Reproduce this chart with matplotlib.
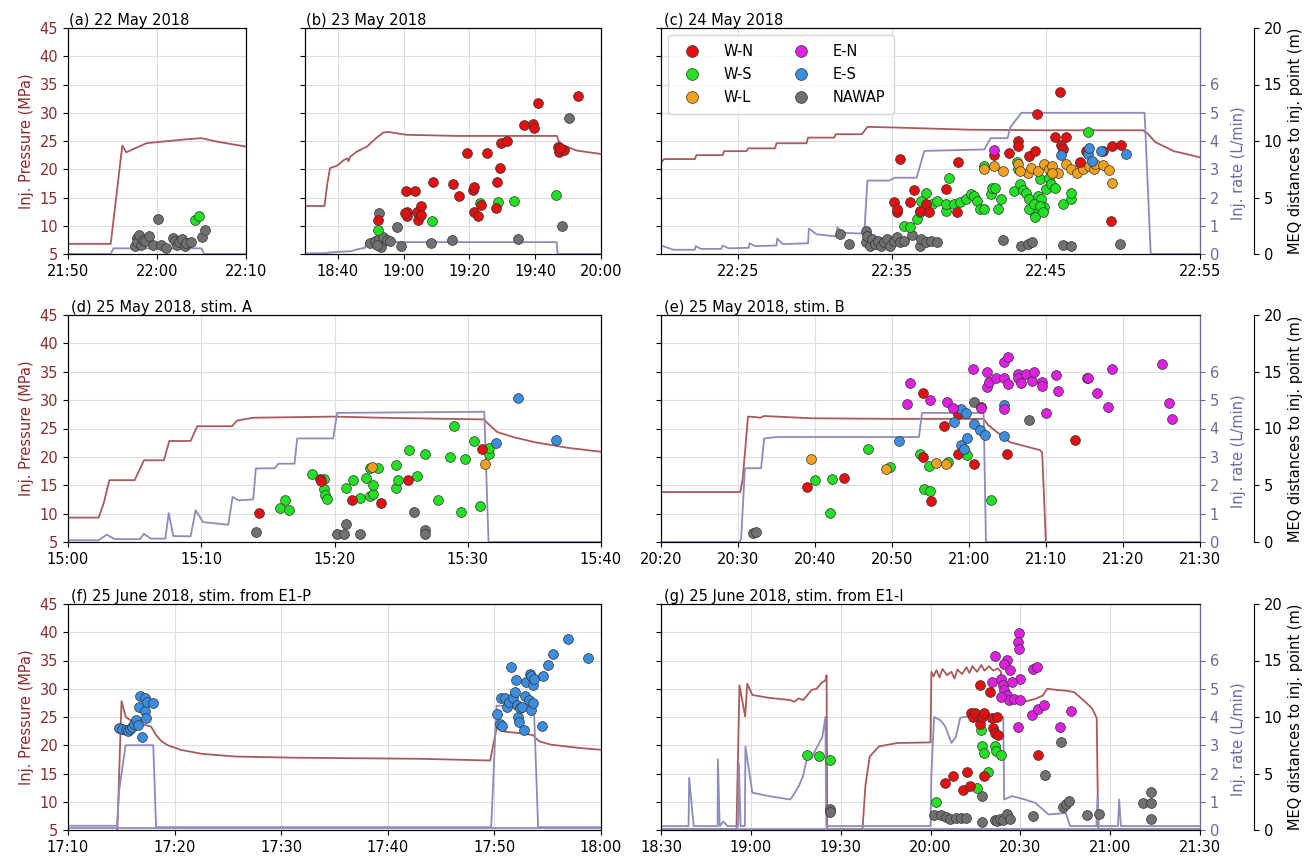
import matplotlib
matplotlib.use("Agg")
import matplotlib.pyplot as plt
import matplotlib.dates as mdates
from matplotlib.lines import Line2D
import numpy as np
import pandas as pd

# Times are minutes after the start of each panel's window.
# Pressure in MPa, injection rate in L/min, MEQ distance in m.

# (a) 22 May 2018, window starts 21:50
A_P_T = [0, 4.8, 6.1, 6.55, 8.8, 10.0, 13.3, 15.0, 16.7, 20.0]
A_P = [6.8, 6.8, 24.2, 23.0, 24.6, 24.8, 25.3, 25.5, 24.9, 24.0]
A_Q_T = [0, 4.8, 5.1, 15.0, 15.3, 20.0]
A_Q = [0, 0, 0.2, 0.2, 0, 0]
A_WS = [(14.3, 3.03), (14.7, 3.32)]
A_NAWAP = [(7.5, 0.68), (7.7, 1.41), (7.8, 1.03), (8.0, 1.71), (8.2, 0.82), (8.4, 1.26),
           (8.7, 1.12), (9.1, 1.62), (9.6, 0.82), (10.1, 3.09), (10.5, 0.82), (11.0, 0.53),
           (11.8, 1.41), (12.0, 1.12), (12.3, 0.82), (12.5, 1.03), (12.8, 1.32), (13.1, 0.74),
           (13.3, 0.97), (13.8, 1.03), (15.0, 1.5), (15.4, 2.15)]

# (b) 23 May 2018, window starts 18:30
B_P_T = [0, 5.9, 6.8, 7.6, 9.6, 10.6, 11.7, 12.9, 13.2, 13.7, 15.7, 18.8, 21.8, 23.8,
         25.4, 30.9, 46.1, 76.6, 77.1, 78.6, 82.7, 90.0]
B_P = [13.5, 13.5, 17.5, 20.2, 20.6, 21.0, 21.6, 21.9, 21.4, 22.2, 23.1, 24.0, 25.6, 26.5,
       26.6, 26.1, 25.9, 25.9, 25.0, 24.2, 23.3, 22.7]
B_Q_T = [0, 6, 8, 14, 16, 18.3, 18.6, 76.5, 76.8, 90]
B_Q = [0.02, 0.03, 0.06, 0.1, 0.17, 0.22, 0.42, 0.42, 0, 0]
B_WN = [(22.3, 2.97), (30.6, 5.59), (33.3, 5.59), (30.9, 3.76), (31.1, 3.32), (30.4, 3.62),
        (34.0, 3.76), (34.5, 3.03), (35.2, 4.21), (35.3, 3.47), (39.0, 6.41), (45.1, 6.2),
        (46.9, 5.15), (49.4, 8.91), (51.2, 5.68), (51.4, 5.91), (51.4, 3.76), (52.7, 3.38),
        (53.4, 4.35), (55.3, 8.91), (58.3, 6.41), (58.1, 4.06), (59.3, 7.59), (59.5, 9.85),
        (61.4, 10.03), (66.7, 11.41), (69.2, 11.47), (69.5, 11.12), (70.7, 13.32),
        (76.9, 9.5), (77.1, 9.06), (78.8, 9.21), (77.6, 9.35), (82.9, 14.0)]
B_WS = [(22.3, 2.15), (38.5, 2.94), (53.2, 4.5), (58.8, 4.56), (63.6, 4.65), (76.3, 5.24)]
B_NAWAP = [(22.5, 3.62), (27.9, 2.35), (19.8, 0.97), (21.3, 1.12), (22.6, 1.32), (23.0, 0.62),
           (23.8, 1.5), (24.8, 1.26), (25.7, 1.18), (22.0, 0.82), (29.1, 0.74), (38.2, 0.97),
           (44.6, 1.21), (64.7, 1.32), (78.1, 2.5), (80.3, 12.06)]

# (c) 24 May 2018, window starts 22:20
C_P_T = [0, 0.2, 2.2, 2.3, 4.0, 4.1, 5.55, 5.65, 7.4, 7.5, 9.45, 9.55, 11.25, 11.35, 13.05,
         13.4, 15.0, 20.0, 25.0, 31.3, 31.6, 32.1, 33.3, 34.4, 35.0]
C_P = [21.2, 21.8, 21.8, 22.5, 22.5, 23.2, 23.2, 23.7, 23.7, 24.6, 24.6, 25.6, 25.6, 26.2,
       26.2, 27.5, 27.4, 27.0, 26.9, 26.9, 26.3, 24.8, 23.2, 22.5, 22.1]
C_Q_T = [0, 0.8, 2.2, 2.25, 2.6, 3.9, 4.0, 4.4, 5.7, 5.75, 6.1, 7.5, 7.55, 7.9, 9.55, 9.6,
         10.1, 11.4, 11.45, 11.8, 13.2, 13.4, 14.8, 15.2, 16.6, 17.1, 21.0, 21.4, 22.5, 22.7,
         23.4, 31.4, 31.8, 35.0]
C_Q = [0.3, 0.15, 0.15, 0.28, 0.18, 0.18, 0.3, 0.2, 0.22, 0.38, 0.28, 0.3, 0.55, 0.35, 0.38,
       0.9, 0.7, 0.62, 0.95, 0.75, 0.72, 2.6, 2.6, 2.7, 2.7, 3.65, 3.7, 4.1, 4.1, 4.5, 5.0,
       5.0, 0.0, 0.0]
C_WN = [(15.5, 8.38), (15.1, 4.56), (15.3, 3.68), (15.3, 3.97), (16.2, 4.56), (16.4, 5.65),
        (17.2, 4.41), (16.8, 3.82), (17.4, 3.68), (18.5, 5.79), (19.3, 8.18), (19.2, 3.74),
        (21.6, 8.74), (22.6, 8.97), (23.2, 10.0), (23.2, 9.56), (23.9, 8.68), (24.3, 9.12),
        (24.4, 12.35), (25.6, 10.35), (25.9, 14.32), (26.0, 9.62), (26.3, 10.35),
        (26.1, 9.26), (27.2, 8.15), (27.6, 9.12), (28.7, 9.12), (29.3, 9.56), (29.9, 9.65),
        (29.2, 2.94)]
C_EN = [(21.6, 9.2)]
C_WS = [(15.8, 2.5), (16.2, 2.35), (16.6, 3.09), (16.8, 3.68), (16.9, 4.71), (17.2, 5.38),
        (17.6, 4.41), (17.9, 4.71), (18.5, 3.82), (18.7, 6.76), (18.5, 4.41), (19.0, 4.41),
        (19.4, 4.56), (19.8, 4.85), (20.1, 5.29), (20.3, 5.09), (20.5, 4.71), (20.7, 3.97),
        (21.0, 3.97), (21.0, 7.79), (21.4, 5.29), (21.5, 5.88), (21.7, 5.88), (21.9, 3.97),
        (22.1, 4.85), (22.9, 5.59), (23.1, 8.15), (23.2, 7.5), (23.3, 6.18), (23.5, 5.65),
        (23.7, 5.44), (23.9, 4.85), (24.0, 3.97), (24.2, 3.68), (24.3, 3.24), (24.5, 5.15),
        (24.6, 6.62), (24.7, 4.85), (24.9, 4.12), (25.0, 5.74), (25.2, 6.76), (25.3, 6.18),
        (25.6, 5.88), (26.1, 4.41), (26.6, 4.85), (26.6, 5.44), (27.7, 10.82), (23.9, 3.97),
        (24.2, 4.41), (24.6, 4.26), (24.8, 3.68)]
C_WL = [(21.0, 7.56), (21.6, 7.79), (22.2, 7.35), (23.2, 7.94), (23.8, 7.21), (24.0, 7.65),
        (24.5, 7.35), (24.9, 7.94), (25.2, 7.5), (25.4, 7.79), (25.8, 7.21), (26.3, 7.94),
        (26.6, 7.5), (27.0, 7.21), (27.2, 8.09), (27.4, 7.5), (27.8, 7.79), (28.1, 7.56),
        (28.2, 7.94), (28.7, 7.85), (29.1, 7.44), (29.3, 6.32), (23.3, 7.35), (25.4, 7.21)]
C_ES = [(26.0, 8.74), (27.7, 8.82), (27.8, 9.41), (28.0, 8.24), (28.6, 9.12), (30.2, 8.82)]
C_NAWAP = [(11.6, 1.76), (12.2, 0.88), (13.3, 2.06), (13.3, 1.03), (13.4, 1.62), (13.6, 0.74),
           (13.7, 1.32), (13.9, 0.88), (14.1, 1.18), (14.3, 0.74), (14.5, 1.03), (14.7, 1.32),
           (14.9, 0.74), (15.1, 1.18), (15.3, 1.47), (15.5, 1.03), (15.8, 1.18), (16.3, 1.68),
           (16.8, 0.74), (16.9, 1.32), (17.2, 1.03), (17.5, 1.18), (17.9, 1.09), (22.2, 1.26),
           (23.4, 0.74), (23.8, 0.88), (24.1, 1.09), (26.1, 0.82), (26.6, 0.68), (29.8, 0.88)]

# (d) 25 May 2018 stim. A, window starts 15:00
D_P_T = [0, 2.3, 2.7, 3.1, 5.0, 5.7, 7.2, 7.6, 9.2, 9.7, 12.3, 12.7, 13.9, 17.1, 20.0, 23.4,
         31.2, 31.5, 32.2, 33.4, 35.0, 37.5, 40.0]
D_P = [9.3, 9.3, 12.0, 15.9, 15.9, 19.4, 19.4, 22.8, 22.8, 25.4, 25.4, 26.4, 26.9, 27.0,
       27.1, 26.9, 26.6, 25.9, 24.4, 23.5, 22.6, 21.6, 20.9]
D_Q_T = [0, 2.3, 2.9, 3.5, 5.4, 5.7, 6.2, 7.3, 7.56, 7.9, 9.2, 9.58, 10.14, 12.03, 12.35,
         12.8, 13.9, 14.1, 15.5, 15.8, 17.0, 17.2, 19.9, 20.2, 31.24, 31.56, 40.0]
D_Q = [0.06, 0.06, 0.26, 0.1, 0.1, 0.29, 0.12, 0.12, 1.02, 0.21, 0.2, 1.12, 0.7, 0.61, 1.59,
       1.47, 1.5, 2.59, 2.6, 2.76, 2.76, 3.65, 3.65, 4.55, 4.59, 0.0, 0.0]
D_WN = [(14.3, 2.59), (18.9, 5.53), (19.0, 5.4), (21.3, 3.68), (23.5, 3.47), (25.5, 5.44),
        (31.1, 8.15)]
D_WS = [(15.9, 3.0), (16.3, 3.68), (16.6, 2.79), (18.3, 6.03), (19.2, 5.53), (19.2, 4.71),
        (19.3, 4.12), (19.4, 3.82), (20.9, 4.79), (21.4, 5.44), (21.9, 3.91), (22.4, 5.68),
        (22.7, 4.06), (22.9, 4.26), (22.9, 5.0), (22.7, 6.53), (23.3, 6.53), (24.6, 6.76),
        (24.6, 4.76), (24.8, 5.5), (25.6, 8.09), (26.2, 5.82), (26.8, 7.74), (27.8, 3.68),
        (28.7, 7.5), (29.0, 10.24), (29.5, 2.65), (29.8, 7.35), (30.5, 8.91), (30.9, 3.15),
        (31.5, 8.09), (31.6, 7.71), (31.6, 8.24)]
D_WL = [(22.8, 6.62), (31.3, 6.91)]
D_ES = [(32.1, 8.76), (33.8, 12.71), (36.6, 8.97)]
D_NAWAP = [(14.1, 0.88), (20.2, 0.68), (20.7, 0.74), (20.9, 1.56), (21.9, 0.74), (26.0, 2.65),
           (26.8, 1.09), (26.8, 0.74)]

# (e) 25 May 2018 stim. B, window starts 20:20
E_P_T = [0, 10.3, 10.6, 11.3, 12.3, 12.9, 13.4, 19.6, 30.0, 41.9, 42.5, 43.6, 45.3, 47.5,
         49.2, 49.5, 50.0]
E_P = [13.8, 13.8, 16.0, 27.1, 27.0, 26.9, 27.2, 26.8, 26.7, 26.7, 25.6, 24.4, 22.6, 21.8,
       21.2, 20.8, 4.5]
E_Q_T = [0, 10.2, 10.4, 10.9, 13.0, 13.4, 15.0, 33.5, 33.9, 41.9, 42.2, 70.0]
E_Q = [0, 0, 0.1, 2.6, 2.6, 3.65, 3.7, 3.7, 4.55, 4.55, 0, 0]
E_EN = [(32.3, 13.97), (31.9, 12.15), (34.9, 12.5), (37.2, 12.35), (37.9, 11.82), (40.5, 15.24),
        (42.4, 14.94), (42.4, 13.62), (42.6, 14.12), (43.5, 14.47), (44.6, 14.47),
        (44.6, 15.88), (45.0, 16.26), (45.0, 13.88), (46.3, 14.76), (46.3, 14.41),
        (46.7, 13.97), (47.4, 14.76), (48.2, 14.18), (48.5, 14.94), (49.5, 14.06),
        (49.5, 13.76), (50.0, 11.38), (51.3, 14.71), (51.6, 13.32), (55.3, 14.41),
        (55.5, 14.41), (56.6, 13.15), (58.0, 11.91), (58.6, 15.24), (65.0, 15.68),
        (66.0, 12.29), (66.4, 10.82), (41.6, 11.82), (44.6, 11.68)]
E_WN = [(18.9, 4.85), (23.8, 5.68), (34.0, 13.09), (34.0, 7.5), (36.8, 10.21), (35.1, 3.59),
        (38.6, 11.24), (38.6, 7.71), (40.7, 6.91), (41.6, 11.91), (44.9, 7.71), (53.8, 9.03)]
E_WS = [(20.0, 5.44), (22.2, 5.59), (21.9, 2.56), (26.9, 8.15), (29.8, 6.62), (33.6, 7.79),
        (34.1, 4.71), (34.8, 6.68), (34.9, 4.47), (37.3, 7.06), (39.8, 7.65), (42.8, 3.68)]
E_WL = [(19.5, 7.35), (29.2, 6.47), (35.7, 7.0), (37.0, 6.85)]
E_ES = [(30.9, 8.91), (38.0, 10.59), (39.0, 11.71), (39.6, 11.38), (39.0, 8.53), (39.4, 8.18),
        (39.8, 9.18), (40.7, 10.44), (41.4, 9.85), (42.1, 9.41), (44.6, 12.06), (44.6, 9.32)]
E_NAWAP = [(11.9, 0.79), (12.3, 0.88), (40.7, 12.35), (47.8, 10.74)]

# (f) 25 June 2018 stim. from E1-P, window starts 17:10
F_P_T = [0, 4.62, 5.02, 5.42, 6.2, 7.2, 7.79, 8.26, 8.77, 9.37, 10.55, 12.5, 15.7, 21.2,
         33.1, 39.6, 40.2, 41.0, 42.6, 43.6, 44.2, 45.3, 48.1, 50.0]
F_P = [4.5, 4.5, 27.8, 25.0, 24.0, 23.6, 23.3, 21.8, 20.7, 20.0, 19.2, 18.5, 18.0, 17.8,
       17.6, 17.3, 23.0, 22.4, 22.1, 21.8, 20.7, 20.1, 19.5, 19.2]
F_Q_T = [0, 4.6, 4.8, 5.4, 8.0, 8.26, 39.7, 40.2, 43.7, 44.1, 50.0]
F_Q = [0.15, 0.15, 1.4, 3.0, 3.0, 0.1, 0.1, 4.4, 4.4, 0.1, 0.1]
F_Q2_T = [0, 50.0]
F_Q2 = [0.06, 0.06]
F_ES = [(4.8, 9.0), (5.1, 8.91), (5.4, 8.85), (5.6, 8.8), (5.8, 8.91), (6.0, 9.15), (6.2, 9.38),
        (6.4, 9.74), (6.6, 9.3), (6.8, 11.85), (6.7, 10.91), (6.9, 8.27), (7.2, 11.64),
        (7.2, 10.56), (7.3, 9.88), (7.4, 11.35), (8.0, 11.26),
        (40.2, 10.26), (40.5, 9.35), (40.7, 9.21), (40.6, 11.64), (41.0, 11.64),
        (41.2, 10.91), (41.4, 11.35), (41.6, 14.43), (41.7, 11.64), (41.9, 12.23),
        (42.0, 13.31), (42.1, 11.06), (42.2, 10.03), (42.3, 9.59), (42.4, 10.76),
        (42.6, 10.91), (42.8, 8.86), (42.9, 11.85), (43.0, 13.11), (43.2, 11.5),
        (43.3, 13.78), (43.4, 13.61), (43.4, 10.62), (43.6, 12.82), (43.6, 11.26),
        (43.7, 13.4), (44.5, 9.21), (44.6, 13.61), (45.0, 14.57), (45.5, 15.54),
        (46.9, 16.86), (48.8, 15.22)]

# (g) 25 June 2018 stim. from E1-I, window starts 18:30
G_P_T = [0, 25.2, 26.2, 28.1, 28.8, 30.5, 36.0, 43.1, 44.5, 46.0, 47.5, 48.9, 50.3, 52.0,
         53.5, 54.9, 55.3, 55.5, 67.3, 68.3, 69.7, 72.8, 79.0, 90.0, 90.3, 91.0, 92.0, 93.0,
         94.0, 95.5, 97.0, 98.0, 99.0, 100.5, 102.0, 103.0, 104.0, 105.5, 107.0, 108.0,
         109.5, 111.0, 112.5, 113.5, 114.3, 117.0, 120.0, 122.0, 125.0, 127.5, 129.0, 132.0,
         136.0, 138.0, 141.0, 144.0, 145.5, 146.0, 180.0]
G_P = [5.2, 5.2, 30.6, 25.1, 30.9, 28.9, 28.4, 28.0, 27.7, 28.3, 28.0, 28.9, 29.8, 30.0,
       31.0, 31.5, 32.4, 5.2, 5.2, 13.0, 18.0, 19.8, 20.4, 20.5, 33.0, 32.2, 33.3, 32.0,
       33.5, 32.4, 33.0, 31.8, 33.4, 32.6, 33.8, 32.8, 34.0, 33.0, 34.2, 33.2, 34.0, 33.2,
       33.6, 33.0, 28.3, 27.8, 27.6, 27.8, 28.2, 28.8, 30.0, 29.8, 29.6, 29.4, 28.0, 26.5,
       24.8, 5.2, 5.2]
G_Q_T = [0, 9.2, 9.4, 10.9, 18.9, 19.0, 19.6, 20.8, 22.2, 25.8, 26.0, 26.6, 28.0, 28.2, 30.5,
         36.0, 43.1, 44.0, 46.0, 47.4, 48.9, 50.3, 51.7, 53.9, 54.9, 55.2, 90.0, 90.3, 91.2,
         93.4, 94.9, 97.0, 98.5, 99.9, 101.0, 114.3, 114.6, 117.2, 121.5, 125.0, 129.4,
         135.2, 136.6, 145.4, 145.8, 146.2, 152.6, 153.0, 153.6, 180.0]
G_Q = [0.14, 0.14, 1.85, 0.14, 0.14, 2.5, 0.14, 0.3, 0.14, 0.14, 2.38, 0.14, 0.14, 2.96,
       1.32, 1.2, 1.08, 1.2, 1.55, 1.9, 2.6, 2.55, 2.85, 3.3, 4.0, 0.14, 0.14, 2.0, 4.0, 3.88,
       3.67, 3.08, 3.3, 3.96, 4.0, 4.0, 1.08, 1.2, 1.08, 0.96, 0.55, 0.6, 0.14, 0.14, 1.2,
       0.14, 0.14, 1.08, 0.14, 0.14]
G_Q2_T = [0, 180.0]
G_Q2 = [0.05, 0.05]
G_WS = [(48.9, 6.66), (52.8, 6.51), (56.5, 6.16), (91.7, 2.49), (105.4, 3.72), (106.7, 8.86),
        (107.1, 7.39), (107.8, 6.8), (109.2, 5.1), (111.5, 7.39), (111.8, 6.95), (113.6, 6.66)]
G_WN = [(94.9, 4.16), (97.5, 4.75), (100.9, 3.58), (102.3, 5.1), (103.2, 3.87), (103.5, 10.38),
        (104.2, 10.03), (104.9, 10.32), (106.4, 12.82), (106.4, 9.38), (107.1, 10.03),
        (107.8, 10.32), (107.8, 4.75), (110.0, 12.17), (110.7, 9.88), (111.0, 9.0),
        (111.4, 8.56), (112.1, 10.03), (112.4, 8.42), (125.9, 6.6)]
G_EN = [(111.4, 15.37), (115.7, 15.07), (119.6, 17.42), (119.3, 16.63), (119.6, 16.04),
        (114.7, 14.72), (116.7, 14.19), (110.7, 13.11), (113.6, 13.4), (114.3, 12.82),
        (114.7, 12.38), (115.7, 11.94), (116.1, 11.5), (113.6, 11.79), (117.9, 11.55),
        (120.0, 11.5), (120.0, 13.4), (119.3, 9.15), (124.0, 10.18), (125.8, 10.67),
        (127.9, 11.06), (124.3, 14.28), (125.4, 14.43), (133.4, 9.15), (136.8, 10.56),
        (117.2, 13.11)]
G_NAWAP = [(56.5, 1.88), (56.5, 1.6), (91.3, 1.29), (93.4, 1.29), (95.2, 1.17), (96.6, 1.0),
           (98.5, 1.09), (100.3, 1.09), (101.8, 1.09), (107.1, 3.05), (107.1, 0.7),
           (111.4, 0.88), (112.1, 0.8), (113.3, 0.94), (114.3, 0.88), (115.7, 1.38),
           (116.7, 0.94), (124.3, 1.23), (128.4, 4.9), (133.7, 7.83), (134.4, 2.05),
           (135.1, 2.26), (136.3, 2.61), (142.3, 1.29), (146.3, 1.38), (161.0, 2.4),
           (163.6, 2.4), (163.6, 3.34), (163.6, 1.0)]

CATEGORIES = ["W-N", "W-S", "W-L", "E-N", "E-S", "NAWAP"]
CAT_COLORS = {"W-N": "#e31010", "W-S": "#22e022", "W-L": "#f2a11f",
              "E-N": "#e020e0", "E-S": "#3b8de0", "NAWAP": "#707070"}
DRAW_ORDER = ["NAWAP", "W-S", "W-L", "W-N", "E-S", "E-N"]

P_COLOR = "#a95a5a"
Q_COLOR = "#8c8cbc"
P_LABEL_COLOR = "#8b2b2b"
Q_LABEL_COLOR = "#6a6a9c"
FS = 10.5

W, H = 1307, 856
fig = plt.figure(figsize=(W / 100, H / 100), dpi=100)


def _times(start, minutes):
    return pd.Timestamp(start) + pd.to_timedelta(np.asarray(minutes, dtype=float), unit="min")


def draw_panel(rect, title, start, span, p, q, events, byminute,
               first_col=False, last_col=False, q2=None):
    l, r, top, bot = rect
    ax = fig.add_axes([l / W, 1 - bot / H, (r - l) / W, (bot - top) / H])
    axq = ax.twinx()
    axd = ax.twinx()

    ax.plot(_times(start, p[0]), p[1], color=P_COLOR, lw=1.3)
    if q2 is not None:
        axq.plot(_times(start, q2[0]), q2[1], color=Q_COLOR, lw=1.3)
    axq.plot(_times(start, q[0]), q[1], color=Q_COLOR, lw=1.3)

    for name in DRAW_ORDER:
        pts = events.get(name)
        if not pts:
            continue
        t, d = zip(*pts)
        axd.scatter(_times(start, t), d, s=50, color=CAT_COLORS[name],
                    edgecolor="#333333", linewidth=0.5, zorder=3)

    t0 = pd.Timestamp(start)
    ax.set_xlim(t0, t0 + pd.Timedelta(minutes=span))
    ax.xaxis.set_major_locator(mdates.MinuteLocator(byminute=byminute))
    ax.xaxis.set_major_formatter(mdates.DateFormatter("%H:%M"))
    ax.tick_params(axis="x", labelsize=FS)

    ax.set_ylim(5, 45)
    ax.set_yticks(range(5, 46, 5))
    ax.grid(True, color="#dddddd", lw=0.8)
    ax.set_axisbelow(True)
    if first_col:
        ax.tick_params(axis="y", labelsize=FS, labelcolor=P_LABEL_COLOR)
        ax.set_ylabel("Inj. Pressure (MPa)", color=P_LABEL_COLOR, fontsize=FS)
    else:
        ax.tick_params(axis="y", labelleft=False)

    axq.set_ylim(0, 8)
    axd.set_ylim(0, 20)
    if last_col:
        axq.set_yticks(range(0, 7))
        axq.tick_params(axis="y", labelsize=FS, colors=Q_LABEL_COLOR)
        axq.spines["right"].set_color(Q_LABEL_COLOR)
        axq.set_ylabel("Inj. rate (L/min)", color=Q_LABEL_COLOR, fontsize=FS)
        axq.yaxis.set_label_coords(1.058, 0.4)

        for s in ["top", "bottom", "left"]:
            axd.spines[s].set_visible(False)
        axd.spines["right"].set_position(("axes", 1 + 54 / (r - l)))
        axd.set_yticks(range(0, 21, 5))
        axd.tick_params(axis="y", labelsize=FS)
        axd.set_ylabel("MEQ distances to inj. point (m)", fontsize=FS)
    else:
        axq.set_yticks([])
        axd.set_yticks([])
        for s in axd.spines.values():
            s.set_visible(False)

    ax.set_title(title, loc="left", fontsize=FS, pad=2, x=0.005)
    return axd


draw_panel((68, 246, 28, 254), "(a) 22 May 2018", "2018-05-22 21:50", 20,
           (A_P_T, A_P), (A_Q_T, A_Q), {"W-S": A_WS, "NAWAP": A_NAWAP},
           [0, 10, 20, 30, 40, 50], first_col=True)
draw_panel((305, 601, 28, 254), "(b) 23 May 2018", "2018-05-23 18:30", 90,
           (B_P_T, B_P), (B_Q_T, B_Q), {"W-N": B_WN, "W-S": B_WS, "NAWAP": B_NAWAP},
           [0, 20, 40])
axc = draw_panel((661, 1200, 28, 254), "(c) 24 May 2018", "2018-05-24 22:20", 35,
                 (C_P_T, C_P), (C_Q_T, C_Q),
                 {"W-N": C_WN, "W-S": C_WS, "W-L": C_WL, "E-N": C_EN, "E-S": C_ES,
                  "NAWAP": C_NAWAP},
                 [5, 15, 25, 35, 45, 55], last_col=True)
draw_panel((68, 601, 315, 542), "(d) 25 May 2018, stim. A", "2018-05-25 15:00", 40,
           (D_P_T, D_P), (D_Q_T, D_Q),
           {"W-N": D_WN, "W-S": D_WS, "W-L": D_WL, "E-S": D_ES, "NAWAP": D_NAWAP},
           [0, 10, 20, 30, 40, 50], first_col=True)
draw_panel((661, 1200, 315, 542), "(e) 25 May 2018, stim. B", "2018-05-25 20:20", 70,
           (E_P_T, E_P), (E_Q_T, E_Q),
           {"W-N": E_WN, "W-S": E_WS, "W-L": E_WL, "E-N": E_EN, "E-S": E_ES,
            "NAWAP": E_NAWAP},
           [0, 10, 20, 30, 40, 50], last_col=True)
draw_panel((68, 601, 604, 830), "(f) 25 June 2018, stim. from E1-P", "2018-06-25 17:10", 50,
           (F_P_T, F_P), (F_Q_T, F_Q), {"E-S": F_ES},
           [0, 10, 20, 30, 40, 50], first_col=True, q2=(F_Q2_T, F_Q2))
draw_panel((661, 1200, 604, 830), "(g) 25 June 2018, stim. from E1-I", "2018-06-25 18:30", 180,
           (G_P_T, G_P), (G_Q_T, G_Q),
           {"W-N": G_WN, "W-S": G_WS, "E-N": G_EN, "NAWAP": G_NAWAP},
           [0, 30], last_col=True, q2=(G_Q2_T, G_Q2))

handles = [Line2D([], [], marker="o", ls="", markersize=8.5, markerfacecolor=CAT_COLORS[c],
                  markeredgecolor="#333333", markeredgewidth=0.5) for c in CATEGORIES]
axc.legend(handles, CATEGORIES, loc="upper left", ncol=2, fontsize=FS,
           columnspacing=2.2, handletextpad=1.2, borderpad=0.6, labelspacing=0.55)

fig.savefig("out.png", dpi=100)
